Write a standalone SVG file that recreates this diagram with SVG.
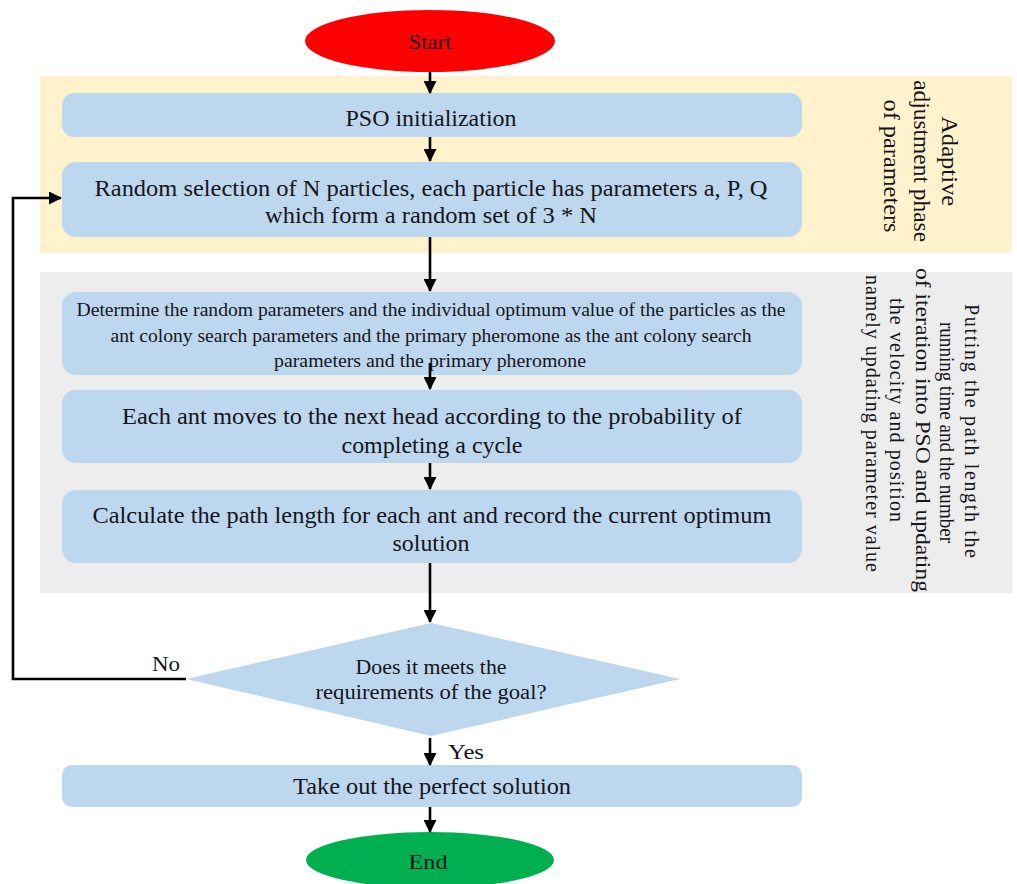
<svg xmlns="http://www.w3.org/2000/svg" width="1017" height="884" viewBox="0 0 1017 884">
<style>
  .t { font-family: "Liberation Serif", "Times New Roman", serif; fill: #15151c; }
  .c { text-anchor: middle; }
  .box { fill: #bdd7ee; }
  .conn { stroke: #000; stroke-width: 2.6; fill: none; }
</style>
<defs>
  <marker id="ah" markerUnits="userSpaceOnUse" markerWidth="13" markerHeight="13" refX="12" refY="6.5" orient="auto">
    <path d="M0,0 L13,6.5 L0,13 z" fill="#000"/>
  </marker>
</defs>
<rect width="1017" height="884" fill="#fff"/>

<g id="phase-adaptive">
  <rect x="40" y="76" width="972" height="177" fill="#fff2cc"/>
  <text class="t c" font-size="23" transform="rotate(90)">
    <tspan x="164" y="-942" textLength="90" lengthAdjust="spacingAndGlyphs">Adaptive</tspan>
    <tspan x="164" y="-914" textLength="162" lengthAdjust="spacingAndGlyphs">adjustment phase</tspan>
    <tspan x="166" y="-884" textLength="133" lengthAdjust="spacingAndGlyphs">of parameters</tspan>
  </text>
</g>

<g id="phase-aco">
  <rect x="40" y="272" width="972" height="321" fill="#ededed"/>
  <text class="t" font-size="20" transform="rotate(90)">
    <tspan x="304" y="-965" textLength="254" lengthAdjust="spacing">Putting the path length the</tspan>
    <tspan x="322" y="-940" textLength="221" lengthAdjust="spacingAndGlyphs">running time and the number</tspan>
    <tspan x="268" y="-916" textLength="324" lengthAdjust="spacingAndGlyphs">of iteration into PSO and updating</tspan>
    <tspan x="298" y="-890" textLength="224" lengthAdjust="spacing">the velocity and position</tspan>
    <tspan x="275" y="-866" textLength="297" lengthAdjust="spacing">namely updating parameter value</tspan>
  </text>
</g>

<g id="start">
  <ellipse cx="430" cy="41" rx="125" ry="31" fill="#ff0000"/>
  <text class="t c" x="430" y="49" font-size="21" textLength="43" lengthAdjust="spacingAndGlyphs" fill="#2a0505">Start</text>
</g>

<g id="pso-init">
  <rect class="box" x="62" y="93" width="740" height="44" rx="12"/>
  <text class="t c" x="431" y="126" font-size="23" textLength="171" lengthAdjust="spacingAndGlyphs">PSO initialization</text>
</g>

<g id="random-selection">
  <rect class="box" x="62" y="162" width="740" height="75" rx="14"/>
  <text class="t c" x="431" y="196" font-size="23" textLength="673" lengthAdjust="spacingAndGlyphs">Random selection of N particles, each particle has parameters a, P, Q</text>
  <text class="t c" x="431" y="223" font-size="23" textLength="332" lengthAdjust="spacingAndGlyphs">which form a random set of 3 * N</text>
</g>

<g id="determine">
  <rect class="box" x="62" y="292" width="740" height="83" rx="14"/>
  <text class="t c" x="431" y="316" font-size="18" textLength="709" lengthAdjust="spacingAndGlyphs">Determine the random parameters and the individual optimum value of the particles as the</text>
  <text class="t c" x="431" y="342" font-size="18" textLength="641" lengthAdjust="spacingAndGlyphs">ant colony search parameters and the primary pheromone as the ant colony search</text>
  <text class="t c" x="430" y="367" font-size="18" textLength="312" lengthAdjust="spacingAndGlyphs">parameters and the primary pheromone</text>
</g>

<g id="ant-moves">
  <rect class="box" x="62" y="390" width="740" height="73" rx="14"/>
  <text class="t c" x="432" y="424" font-size="23" textLength="620" lengthAdjust="spacingAndGlyphs">Each ant moves to the next head according to the probability of</text>
  <text class="t c" x="432" y="453" font-size="23" textLength="181" lengthAdjust="spacingAndGlyphs">completing a cycle</text>
</g>

<g id="calc-path">
  <rect class="box" x="62" y="490" width="740" height="73" rx="14"/>
  <text class="t c" x="432" y="523" font-size="23" textLength="679" lengthAdjust="spacingAndGlyphs">Calculate the path length for each ant and record the current optimum</text>
  <text class="t c" x="431" y="551" font-size="23" textLength="77" lengthAdjust="spacingAndGlyphs">solution</text>
</g>

<g id="decision">
  <polygon points="431,623 680,679 431,736 186,679" class="box"/>
  <text class="t c" x="431" y="674" font-size="20" textLength="151" lengthAdjust="spacingAndGlyphs">Does it meets the</text>
  <text class="t c" x="431" y="699" font-size="20" textLength="231" lengthAdjust="spacingAndGlyphs">requirements of the  goal?</text>
</g>

<g id="take-out">
  <rect class="box" x="62" y="765" width="740" height="42" rx="10"/>
  <text class="t c" x="432" y="794" font-size="23" textLength="278" lengthAdjust="spacingAndGlyphs">Take out the perfect solution</text>
</g>

<g id="end">
  <ellipse cx="430" cy="860" rx="124" ry="28" fill="#00b050"/>
  <text class="t c" x="428" y="869" font-size="22" textLength="39" lengthAdjust="spacingAndGlyphs" fill="#0a2a0a">End</text>
</g>

<g id="connectors">
  <line class="conn" x1="430" y1="72" x2="430" y2="93" marker-end="url(#ah)"/>
  <line class="conn" x1="430" y1="137" x2="430" y2="161" marker-end="url(#ah)"/>
  <line class="conn" x1="430" y1="237" x2="430" y2="291" marker-end="url(#ah)"/>
  <line class="conn" x1="430" y1="363" x2="430" y2="389" marker-end="url(#ah)"/>
  <line class="conn" x1="430" y1="463" x2="430" y2="489" marker-end="url(#ah)"/>
  <line class="conn" x1="430" y1="563" x2="430" y2="622" marker-end="url(#ah)"/>
  <line class="conn" x1="430" y1="738" x2="430" y2="765" marker-end="url(#ah)"/>
  <line class="conn" x1="430" y1="807" x2="430" y2="832" marker-end="url(#ah)"/>
  <path class="conn" d="M186,679 H13 V198 H61" marker-end="url(#ah)"/>
  <text class="t" x="152" y="671" font-size="21" textLength="28" lengthAdjust="spacingAndGlyphs">No</text>
  <text class="t" x="448" y="759" font-size="21" textLength="36" lengthAdjust="spacingAndGlyphs">Yes</text>
</g>
</svg>
